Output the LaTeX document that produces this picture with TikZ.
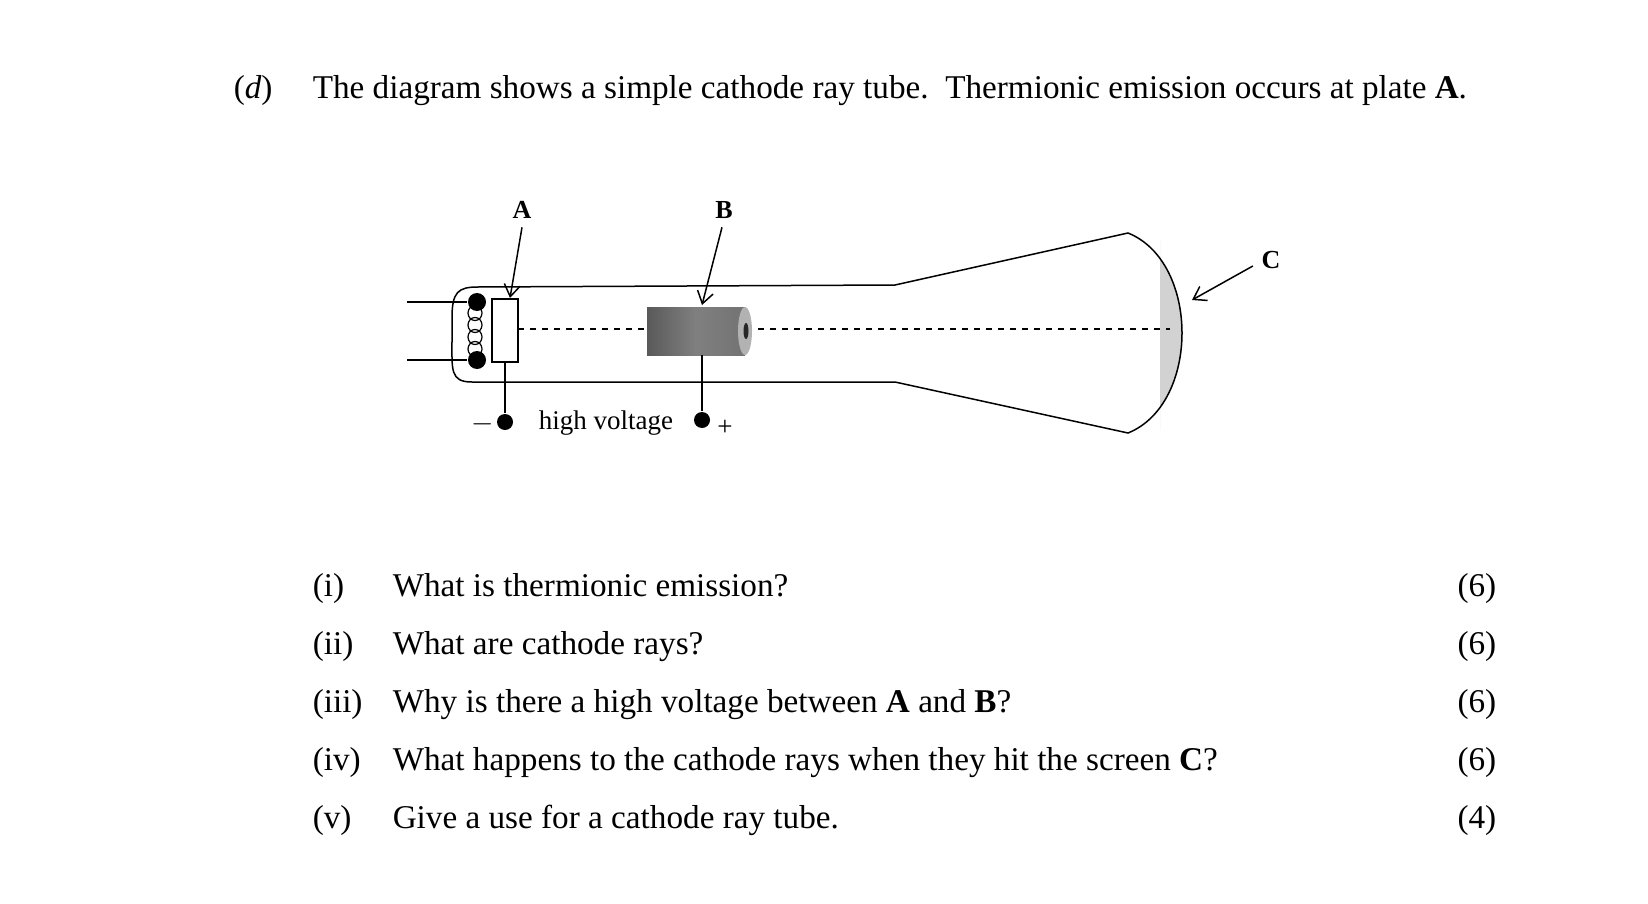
\documentclass[tikz,border=0pt]{standalone}
\usepackage{fontspec}
\setmainfont{Liberation Serif}
\usetikzlibrary{arrows.meta}
\tikzset{every picture/.style={line width=0.75pt}}
\tikzset{
  txt/.style={font=\fontsize{16.6}{19}\selectfont, inner sep=0pt},
  lbl/.style={font=\fontsize{13}{15}\selectfont\bfseries, inner sep=0pt},
  small/.style={font=\fontsize{13.5}{15}\selectfont, inner sep=0pt},
  pointer/.style={-{Straight Barb[length=6pt,width=8pt]}},
  term/.style={circle, fill=black, inner sep=0pt, minimum size=8pt},
}
\begin{document}
\begin{tikzpicture}[x=0.5pt,y=-0.5pt]
\useasboundingbox (0,0) rectangle (1648,904);

% heading
\node[txt, anchor=base west] (part) at (233,98) {(\textit{d})};
\node[txt, anchor=base west] (intro) at (312,98) {The diagram shows a simple cathode ray tube.\ \ Thermionic emission occurs at plate \textbf{A}.};

% screen glow
\begin{scope}
\clip (1128,233) .. controls (1200,262) and (1200,404) .. (1128,433) -- (1160,433) -- (1160,233) -- cycle;
\fill[gray!35] (1160,240) rectangle (1200,430);
\end{scope}

% tube
\draw (895,285) -- (1128,233) .. controls (1200,262) and (1200,404) .. (1128,433) -- (895,382)
      -- (472,382) .. controls (450,382) and (452,370) .. (452,340) -- (452,318)
      .. controls (452,292) and (458,287) .. (478,287) -- cycle;

% axis
\draw[dashed, line width=0.6pt] (518,329) -- (1170,329);

% filament and plate A
\node[term, minimum size=9pt] (f1) at (477,302) {};
\node[term, minimum size=9pt] (f2) at (477,360) {};
\draw (407,302) -- (f1);
\draw (407,360) -- (f2);
\foreach \k in {0,...,3}
  \draw[line width=0.6pt] (475,{313+12*\k}) ellipse (7 and 7.5);
\draw[fill=white] (492,299) rectangle (518,362);
\coordinate (plateA) at (505,362);

% anode B
\shade[left color=gray!70!black, right color=gray!90!black, middle color=gray] (647,307) rectangle (745,355);
\fill[gray!60] (745,331) ellipse (7 and 24);
\fill[gray!30!black] (746,331) ellipse (2.5 and 8);
\coordinate (cylB) at (702,355);

% terminals
\node[term] (tA) at (505,422) {};
\node[term] (tB) at (702,420) {};
\draw (plateA) -- (tA);
\draw (cylB) -- (tB);
\node[small, anchor=east] (minus) at (495,424) {$-$};
\node[small] (hv) at (606,423) {high voltage};
\node[small] (plus) at (725,428) {+};

% labels
\node[lbl] (A) at (522,210) {A};
\node[lbl] (B) at (724,210) {B};
\node[lbl] (C) at (1271,260) {C};
\draw[pointer] (A.south) ++(0,8) -- (510,298);
\draw[pointer] (B.south) ++(-2,8) -- (702,305);
\draw[pointer] (C.west) ++(-8,6) -- (1192,300);

% questions
\foreach \r/\q/\m [count=\i] in {
  (i)/{What is thermionic emission?}/(6),
  (ii)/{What are cathode rays?}/(6),
  (iii)/{Why is there a high voltage between \textbf{A} and \textbf{B}?}/(6),
  (iv)/{What happens to the cathode rays when they hit the screen \textbf{C}?}/(6),
  (v)/{Give a use for a cathode ray tube.}/(4)} {
  \node[txt, anchor=base west] (num\i) at (312,{588+58*(\i-1)+8}) {\r};
  \node[txt, anchor=base west] (q\i) at (392,{588+58*(\i-1)+8}) {\q};
  \node[txt, anchor=base east] (mark\i) at (1497,{588+58*(\i-1)+8}) {\m};
}
\end{tikzpicture}
\end{document}
